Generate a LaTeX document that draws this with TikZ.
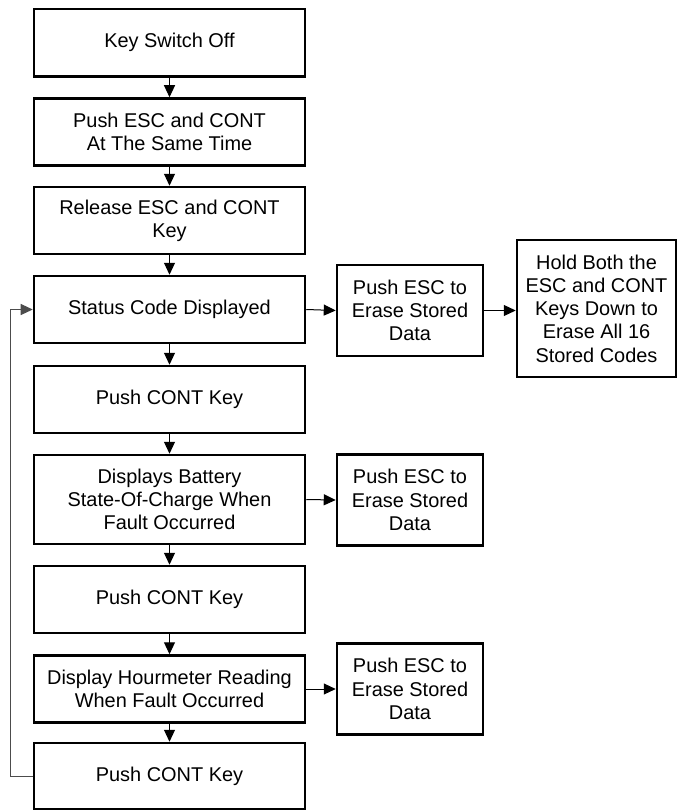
\documentclass[tikz,border=0pt]{standalone}
\usepackage{fontspec}
\setmainfont{Liberation Sans}
\usetikzlibrary{arrows.meta}

\tikzset{
  stepbox/.style={draw, line width=2.5bp, minimum width=271bp, minimum height=67bp,
    align=center, inner sep=0pt, font=\fontsize{20}{23.3}\selectfont},
  sidebox/.style={stepbox, minimum width=146bp, minimum height=91bp},
  flow/.style={line width=1bp, -{Triangle[length=12bp,width=11bp]}},
  backflow/.style={flow, draw=black!70}
}

\begin{document}
\begin{tikzpicture}[x=1bp, y=-1bp]
  \useasboundingbox (0,0) rectangle (677,810);

  % main column of steps
  \node[stepbox] (keyoff)  at (169.5,42.75) {Key Switch Off};
  \node[stepbox] (pushboth) at (169.5,132)  {Push ESC and CONT\\At The Same Time};
  \node[stepbox] (release) at (169.5,220.5) {Release ESC and CONT\\Key};
  \node[stepbox] (status)  at (169.5,309.5) {Status Code Displayed};
  \node[stepbox] (contA)   at (169.5,399.5) {Push CONT Key};
  \node[stepbox, minimum height=89bp] (battery) at (169.5,499.5)
    {Displays Battery\\State-Of-Charge When\\Fault Occurred};
  \node[stepbox] (contB)   at (169.5,599.5) {Push CONT Key};
  \node[stepbox] (hours)   at (169.5,689)   {Display Hourmeter Reading\\When Fault Occurred};
  \node[stepbox, minimum height=66bp] (contC) at (169.5,776) {Push CONT Key};

  % side branches
  \node[sidebox] (escA) at (410,310.5) {Push ESC to\\Erase Stored\\Data};
  \node[sidebox, minimum width=159bp, minimum height=137bp] (holdall) at (596.5,308.5)
    {Hold Both the\\ESC and CONT\\Keys Down to\\Erase All 16\\Stored Codes};
  \node[sidebox] (escB) at (410,500) {Push ESC to\\Erase Stored\\Data};
  \node[sidebox] (escC) at (410,689)   {Push ESC to\\Erase Stored\\Data};

  % connectors
  \foreach \a/\b in {keyoff/pushboth, pushboth/release, release/status, status/contA,
                     contA/battery, battery/contB, contB/hours, hours/contC}
    \draw[flow] (\a.south) -- (\b.north);

  \draw[flow] (status.east) -- (escA.west);
  \draw[flow] (escA.east) -- (holdall.west |- escA.east);
  \draw[flow] (battery.east) -- (escB.west);
  \draw[flow] (hours.east) -- (escC.west);

  % loop back to the status code
  \draw[backflow] (contC.west) -- ++(-22,0) |- (status.west);

\end{tikzpicture}
\end{document}
